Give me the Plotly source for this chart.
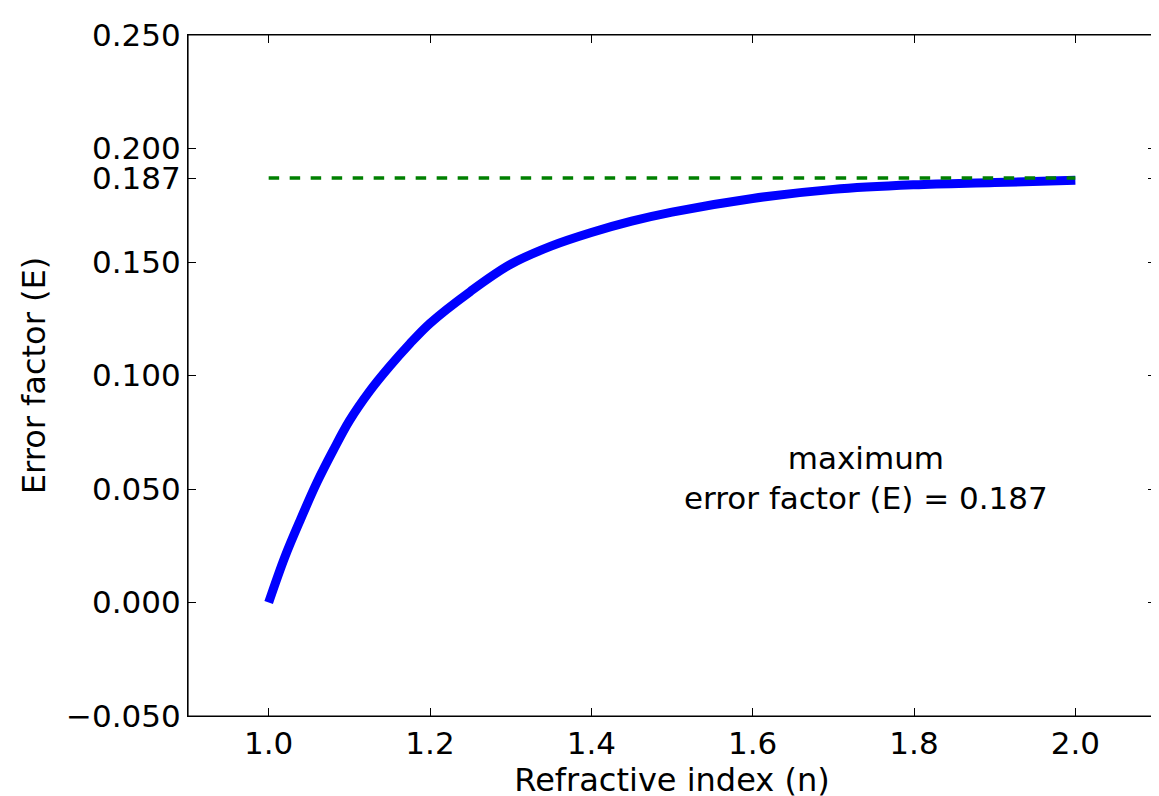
import plotly.graph_objects as go

n_vals = [1.0, 1.02, 1.04, 1.06, 1.08, 1.1, 1.125, 1.15, 1.175, 1.2, 1.25, 1.3, 1.35, 1.4, 1.45, 1.5, 1.6, 1.7, 1.8, 1.9, 2.0]
e_vals = [0.0, 0.020, 0.037, 0.053, 0.067, 0.080, 0.093, 0.104, 0.114, 0.123, 0.137, 0.149, 0.157, 0.163, 0.168, 0.172, 0.178, 0.182, 0.184, 0.185, 0.186]
max_e = 0.187
ytick_vals = [-0.05, 0.0, 0.05, 0.1, 0.15, 0.187, 0.2, 0.25]
ytick_text = ["\u22120.050", "0.000", "0.050", "0.100", "0.150", "0.187", "0.200", "0.250"]
xtick_vals = [1.0, 1.2, 1.4, 1.6, 1.8, 2.0]

fig = go.Figure()
fig.add_trace(go.Scatter(x=n_vals, y=e_vals, mode="lines", line=dict(color="blue", width=9, shape="spline", smoothing=1.0)))
fig.add_trace(go.Scatter(x=[1.0, 2.0], y=[max_e, max_e], mode="lines", line=dict(color="green", width=3.5, dash="dash")))
fig.add_annotation(x=1.74, y=0.055, text="maximum<br>error factor (E) = 0.187", showarrow=False,
                   font=dict(size=31, color="black"), align="center")
fig.add_shape(type="rect", xref="paper", yref="paper", x0=0, y0=0, x1=1, y1=1,
              line=dict(color="black", width=1.2), layer="above")
axis_common = dict(showline=True, linecolor="black", linewidth=1.2, mirror="ticks", ticks="inside",
                   ticklen=8, tickcolor="black", showgrid=False, zeroline=False, automargin=False,
                   tickfont=dict(size=31, color="black"))
fig.update_xaxes(range=[0.9, 2.1], tickvals=xtick_vals, ticktext=[f"{v:.1f}" for v in xtick_vals],
                 title=dict(text="Refractive index (n)", font=dict(size=32, color="black"), standoff=8), **axis_common)
fig.update_yaxes(range=[-0.05, 0.25], tickvals=ytick_vals, ticktext=ytick_text,
                 title=dict(text="Error factor (E)", font=dict(size=32, color="black"), standoff=10), **axis_common)
fig.update_layout(width=1159, height=796, showlegend=False, plot_bgcolor="white", paper_bgcolor="white",
                  margin=dict(l=180, r=11, t=27, b=88), font=dict(family="DejaVu Sans"))
fig.write_html("out.html")
